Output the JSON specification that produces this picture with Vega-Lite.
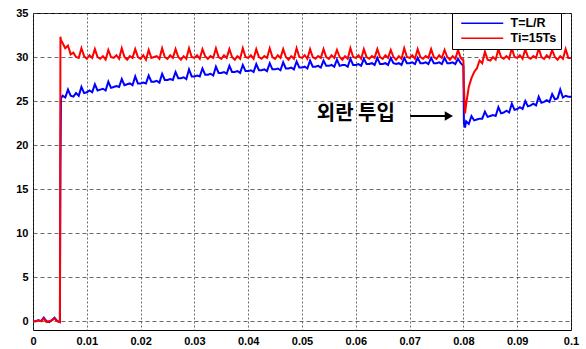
{
  "$schema": "https://vega.github.io/schema/vega-lite/v6.json",
  "width": 538,
  "height": 317,
  "autosize": {"type": "none"},
  "padding": {"left": 33, "top": 13, "right": 15, "bottom": 19},
  "background": "white",
  "config": {
    "view": {"stroke": "#000", "strokeWidth": 1},
    "axis": {"labelFont": "Liberation Sans", "labelFontWeight": "bold", "labelFontSize": 11, "labelColor": "#000", "domain": false, "ticks": false, "gridColor": "#444", "gridWidth": 0.8, "gridOpacity": 1, "title": null}
  },
  "layer": [
    {
      "data": {"values": [
        {"t":0,"b":0,"r":0},{"t":0.0005,"b":0.0,"r":0.0},{"t":0.001,"b":0.1,"r":0.1},{"t":0.0015,"b":0.0,"r":0.0},{"t":0.002,"b":0.4,"r":0.3},{"t":0.0025,"b":0.0,"r":-0.1},{"t":0.003,"b":-0.1,"r":0.0},{"t":0.0035,"b":0.1,"r":0.1},{"t":0.004,"b":0.4,"r":0.3},{"t":0.0045,"b":0.0,"r":0.0},{"t":0.005,"b":-0.1,"r":-0.1},
        {"t":0.0051,"b":17.5,"r":32.3},{"t":0.0052,"b":25.3,"r":31.9},
        {"t":0.0055,"b":25.6,"r":31.6},{"t":0.006,"b":25.4,"r":31.0},{"t":0.0065,"b":26.3,"r":31.3},{"t":0.007,"b":25.6,"r":30.3},{"t":0.0075,"b":25.5,"r":30.5},
        {"t":0.008,"b":25.9,"r":30.0},{"t":0.0085,"b":25.6,"r":29.9},{"t":0.009,"b":26.6,"r":31.0},{"t":0.0095,"b":25.9,"r":30.1},{"t":0.010,"b":26.0,"r":29.8},
        {"t":0.0105,"b":26.2,"r":30.2},{"t":0.011,"b":26.0,"r":29.9},{"t":0.0115,"b":26.9,"r":30.9},{"t":0.012,"b":26.2,"r":30.0},{"t":0.0125,"b":26.3,"r":29.8},
        {"t":0.013,"b":26.4,"r":30.1},{"t":0.0135,"b":26.2,"r":29.7},{"t":0.014,"b":27.2,"r":30.8},{"t":0.0145,"b":26.5,"r":30.0},{"t":0.015,"b":26.6,"r":29.9},
        {"t":0.0155,"b":26.7,"r":30.2},{"t":0.016,"b":26.6,"r":29.8},{"t":0.0165,"b":27.5,"r":31.0},{"t":0.017,"b":26.8,"r":30.0},{"t":0.0175,"b":26.9,"r":29.7},
        {"t":0.018,"b":27.0,"r":30.1},{"t":0.0185,"b":26.8,"r":29.9},{"t":0.019,"b":27.8,"r":30.9},{"t":0.0195,"b":27.0,"r":30.0},{"t":0.020,"b":27.0,"r":29.8},
        {"t":0.0205,"b":27.1,"r":30.2},{"t":0.021,"b":27.0,"r":29.7},{"t":0.0215,"b":27.9,"r":30.8},{"t":0.022,"b":27.2,"r":29.9},{"t":0.0225,"b":27.2,"r":30.0},
        {"t":0.023,"b":27.3,"r":30.1},{"t":0.0235,"b":27.1,"r":29.8},{"t":0.024,"b":28.1,"r":31.0},{"t":0.0245,"b":27.4,"r":30.0},{"t":0.025,"b":27.4,"r":29.8},
        {"t":0.0255,"b":27.5,"r":30.2},{"t":0.026,"b":27.4,"r":29.9},{"t":0.0265,"b":28.3,"r":30.9},{"t":0.027,"b":27.6,"r":30.0},{"t":0.0275,"b":27.6,"r":29.7},
        {"t":0.028,"b":27.7,"r":30.1},{"t":0.0285,"b":27.5,"r":29.8},{"t":0.029,"b":28.6,"r":31.0},{"t":0.0295,"b":27.8,"r":30.0},{"t":0.030,"b":27.8,"r":29.9},
        {"t":0.0305,"b":27.9,"r":30.2},{"t":0.031,"b":27.8,"r":29.8},{"t":0.0315,"b":28.7,"r":30.9},{"t":0.032,"b":28.0,"r":30.1},{"t":0.0325,"b":28.0,"r":29.8},
        {"t":0.033,"b":28.1,"r":30.1},{"t":0.0335,"b":27.9,"r":29.9},{"t":0.034,"b":28.9,"r":31.0},{"t":0.0345,"b":28.2,"r":30.0},{"t":0.035,"b":28.2,"r":29.8},
        {"t":0.0355,"b":28.3,"r":30.2},{"t":0.036,"b":28.1,"r":29.9},{"t":0.0365,"b":29.0,"r":30.9},{"t":0.037,"b":28.3,"r":30.0},{"t":0.0375,"b":28.3,"r":29.7},
        {"t":0.038,"b":28.4,"r":30.1},{"t":0.0385,"b":28.2,"r":29.8},{"t":0.039,"b":29.1,"r":31.0},{"t":0.0395,"b":28.4,"r":30.0},{"t":0.040,"b":28.4,"r":29.9},
        {"t":0.0405,"b":28.5,"r":30.2},{"t":0.041,"b":28.3,"r":29.8},{"t":0.0415,"b":29.2,"r":30.9},{"t":0.042,"b":28.5,"r":30.0},{"t":0.0425,"b":28.5,"r":29.8},
        {"t":0.043,"b":28.6,"r":30.1},{"t":0.0435,"b":28.4,"r":29.9},{"t":0.044,"b":29.3,"r":31.0},{"t":0.0445,"b":28.6,"r":30.0},{"t":0.045,"b":28.6,"r":29.8},
        {"t":0.0455,"b":28.7,"r":30.2},{"t":0.046,"b":28.5,"r":29.9},{"t":0.0465,"b":29.4,"r":30.9},{"t":0.047,"b":28.7,"r":30.0},{"t":0.0475,"b":28.7,"r":29.7},
        {"t":0.048,"b":28.8,"r":30.1},{"t":0.0485,"b":28.6,"r":29.8},{"t":0.049,"b":29.5,"r":31.0},{"t":0.0495,"b":28.8,"r":30.0},{"t":0.050,"b":28.8,"r":29.9},
        {"t":0.0505,"b":28.9,"r":30.2},{"t":0.051,"b":28.7,"r":29.8},{"t":0.0515,"b":29.6,"r":30.9},{"t":0.052,"b":28.9,"r":30.0},{"t":0.0525,"b":28.9,"r":29.8},
        {"t":0.053,"b":29.0,"r":30.1},{"t":0.0535,"b":28.8,"r":29.9},{"t":0.054,"b":29.6,"r":30.9},{"t":0.0545,"b":29.0,"r":30.0},{"t":0.055,"b":29.0,"r":29.8},
        {"t":0.0555,"b":29.1,"r":30.2},{"t":0.056,"b":28.9,"r":29.9},{"t":0.0565,"b":29.7,"r":30.8},{"t":0.057,"b":29.0,"r":30.0},{"t":0.0575,"b":29.1,"r":29.7},
        {"t":0.058,"b":29.1,"r":30.1},{"t":0.0585,"b":28.9,"r":29.8},{"t":0.059,"b":29.8,"r":31.0},{"t":0.0595,"b":29.1,"r":30.0},{"t":0.060,"b":29.1,"r":29.9},
        {"t":0.0605,"b":29.2,"r":30.2},{"t":0.061,"b":29.0,"r":29.8},{"t":0.0615,"b":29.8,"r":30.9},{"t":0.062,"b":29.2,"r":30.0},{"t":0.0625,"b":29.2,"r":29.8},
        {"t":0.063,"b":29.3,"r":30.1},{"t":0.0635,"b":29.1,"r":29.9},{"t":0.064,"b":29.9,"r":30.9},{"t":0.0645,"b":29.2,"r":30.0},{"t":0.065,"b":29.2,"r":29.8},
        {"t":0.0655,"b":29.3,"r":30.2},{"t":0.066,"b":29.1,"r":29.9},{"t":0.0665,"b":29.9,"r":30.8},{"t":0.067,"b":29.3,"r":30.0},{"t":0.0675,"b":29.2,"r":29.7},
        {"t":0.068,"b":29.3,"r":30.1},{"t":0.0685,"b":29.1,"r":29.8},{"t":0.069,"b":29.9,"r":31.0},{"t":0.0695,"b":29.3,"r":30.0},{"t":0.070,"b":29.3,"r":29.9},
        {"t":0.0705,"b":29.4,"r":30.2},{"t":0.071,"b":29.2,"r":29.8},{"t":0.0715,"b":29.9,"r":30.9},{"t":0.072,"b":29.3,"r":30.0},{"t":0.0725,"b":29.3,"r":29.8},
        {"t":0.073,"b":29.4,"r":30.1},{"t":0.0735,"b":29.2,"r":29.9},{"t":0.074,"b":29.9,"r":30.9},{"t":0.0745,"b":29.3,"r":30.0},{"t":0.075,"b":29.3,"r":29.8},
        {"t":0.0755,"b":29.4,"r":30.2},{"t":0.076,"b":29.2,"r":29.9},{"t":0.0765,"b":29.9,"r":30.8},{"t":0.077,"b":29.3,"r":30.0},{"t":0.0775,"b":29.3,"r":29.7},
        {"t":0.078,"b":29.4,"r":30.1},{"t":0.0785,"b":29.2,"r":29.8},{"t":0.079,"b":29.8,"r":30.8},{"t":0.0795,"b":29.3,"r":29.9},
        {"t":0.0800,"b":29.0,"r":29.6},{"t":0.0801,"b":22.4,"r":26.5},{"t":0.0803,"b":22.0,"r":23.6},{"t":0.0805,"b":22.7,"r":24.6},
        {"t":0.081,"b":22.4,"r":26.6},{"t":0.0815,"b":23.3,"r":27.6},{"t":0.082,"b":22.8,"r":28.3},{"t":0.0825,"b":22.9,"r":28.7},
        {"t":0.083,"b":23.0,"r":29.6},{"t":0.0835,"b":23.0,"r":29.3},{"t":0.084,"b":23.8,"r":30.6},{"t":0.0845,"b":23.2,"r":29.7},{"t":0.085,"b":23.3,"r":29.6},
        {"t":0.0855,"b":23.4,"r":30.0},{"t":0.086,"b":23.3,"r":29.7},{"t":0.0865,"b":24.3,"r":30.9},{"t":0.087,"b":23.6,"r":30.0},{"t":0.0875,"b":23.7,"r":29.8},
        {"t":0.088,"b":23.9,"r":30.1},{"t":0.0885,"b":23.7,"r":29.8},{"t":0.089,"b":24.7,"r":31.0},{"t":0.0895,"b":24.0,"r":30.0},{"t":0.090,"b":24.1,"r":29.9},
        {"t":0.0905,"b":24.3,"r":30.2},{"t":0.091,"b":24.1,"r":29.8},{"t":0.0915,"b":25.0,"r":30.9},{"t":0.092,"b":24.4,"r":30.0},{"t":0.0925,"b":24.5,"r":29.8},
        {"t":0.093,"b":24.7,"r":30.1},{"t":0.0935,"b":24.5,"r":29.9},{"t":0.094,"b":25.5,"r":31.0},{"t":0.0945,"b":24.8,"r":30.0},{"t":0.095,"b":24.9,"r":29.8},
        {"t":0.0955,"b":25.1,"r":30.2},{"t":0.096,"b":24.9,"r":29.9},{"t":0.0965,"b":25.8,"r":30.8},{"t":0.097,"b":25.2,"r":30.0},{"t":0.0975,"b":25.3,"r":29.7},
        {"t":0.098,"b":26.3,"r":30.1},{"t":0.0985,"b":25.4,"r":29.8},{"t":0.099,"b":25.6,"r":30.9},{"t":0.0995,"b":25.5,"r":29.9},{"t":0.100,"b":25.5,"r":29.9}
      ]},
      "transform": [{"fold": ["b", "r"], "as": ["k", "v"]}],
      "mark": {"type": "line", "strokeWidth": 2, "clip": true},
      "encoding": {
        "x": {"field": "t", "type": "quantitative", "scale": {"domain": [0, 0.1], "nice": false, "zero": false},
              "axis": {"values": [0,0.01,0.02,0.03,0.04,0.05,0.06,0.07,0.08,0.09,0.1], "format": "~g", "labelPadding": 5, "gridDash": [2, 2], "labelFlush": false}},
        "y": {"field": "v", "type": "quantitative", "scale": {"domain": [-1, 35], "nice": false, "zero": false},
              "axis": {"values": [0,5,10,15,20,25,30,35], "labelPadding": 5, "gridDash": [4, 3]}},
        "color": {"field": "k", "type": "nominal",
                  "scale": {"domain": ["b", "r"], "range": ["#0000ff", "#ff0000"]},
                  "legend": {"title": null, "orient": "none", "legendX": 419, "legendY": 0,
                             "labelExpr": "datum.value == 'b' ? 'T=L/R' : 'Ti=15Ts\u00a0\u00a0'",
                             "symbolType": "M-0.2,0H8.2", "symbolSize": 100, "symbolStrokeWidth": 1.5,
                             "strokeColor": "#000", "fillColor": "#fff", "padding": 4,
                             "labelFont": "Liberation Sans", "labelFontWeight": "bold", "labelFontSize": 12.5, "labelColor": "#000",
                             "rowPadding": 2, "labelOffset": 42}}
      }
    },
    {
      "data": {"values": [{"t": 0.06, "v": 23.5, "label": "외란 투입"}]},
      "mark": {"type": "text", "font": "Noto Sans CJK KR", "fontSize": 20, "fontWeight": "bold", "color": "#000", "align": "center", "baseline": "middle"},
      "encoding": {
        "x": {"field": "t", "type": "quantitative"},
        "y": {"field": "v", "type": "quantitative"},
        "text": {"field": "label"}
      }
    },
    {
      "data": {"values": [{"t": 0.0701, "t2": 0.0768, "v": 23.3}]},
      "mark": {"type": "rule", "color": "#000", "strokeWidth": 2},
      "encoding": {
        "x": {"field": "t", "type": "quantitative"},
        "x2": {"field": "t2"},
        "y": {"field": "v", "type": "quantitative"}
      }
    },
    {
      "data": {"values": [{"t": 0.0773, "v": 23.3}]},
      "mark": {"type": "point", "shape": "triangle-right", "filled": true, "color": "#000", "size": 90, "opacity": 1},
      "encoding": {
        "x": {"field": "t", "type": "quantitative"},
        "y": {"field": "v", "type": "quantitative"}
      }
    }
  ]
}
